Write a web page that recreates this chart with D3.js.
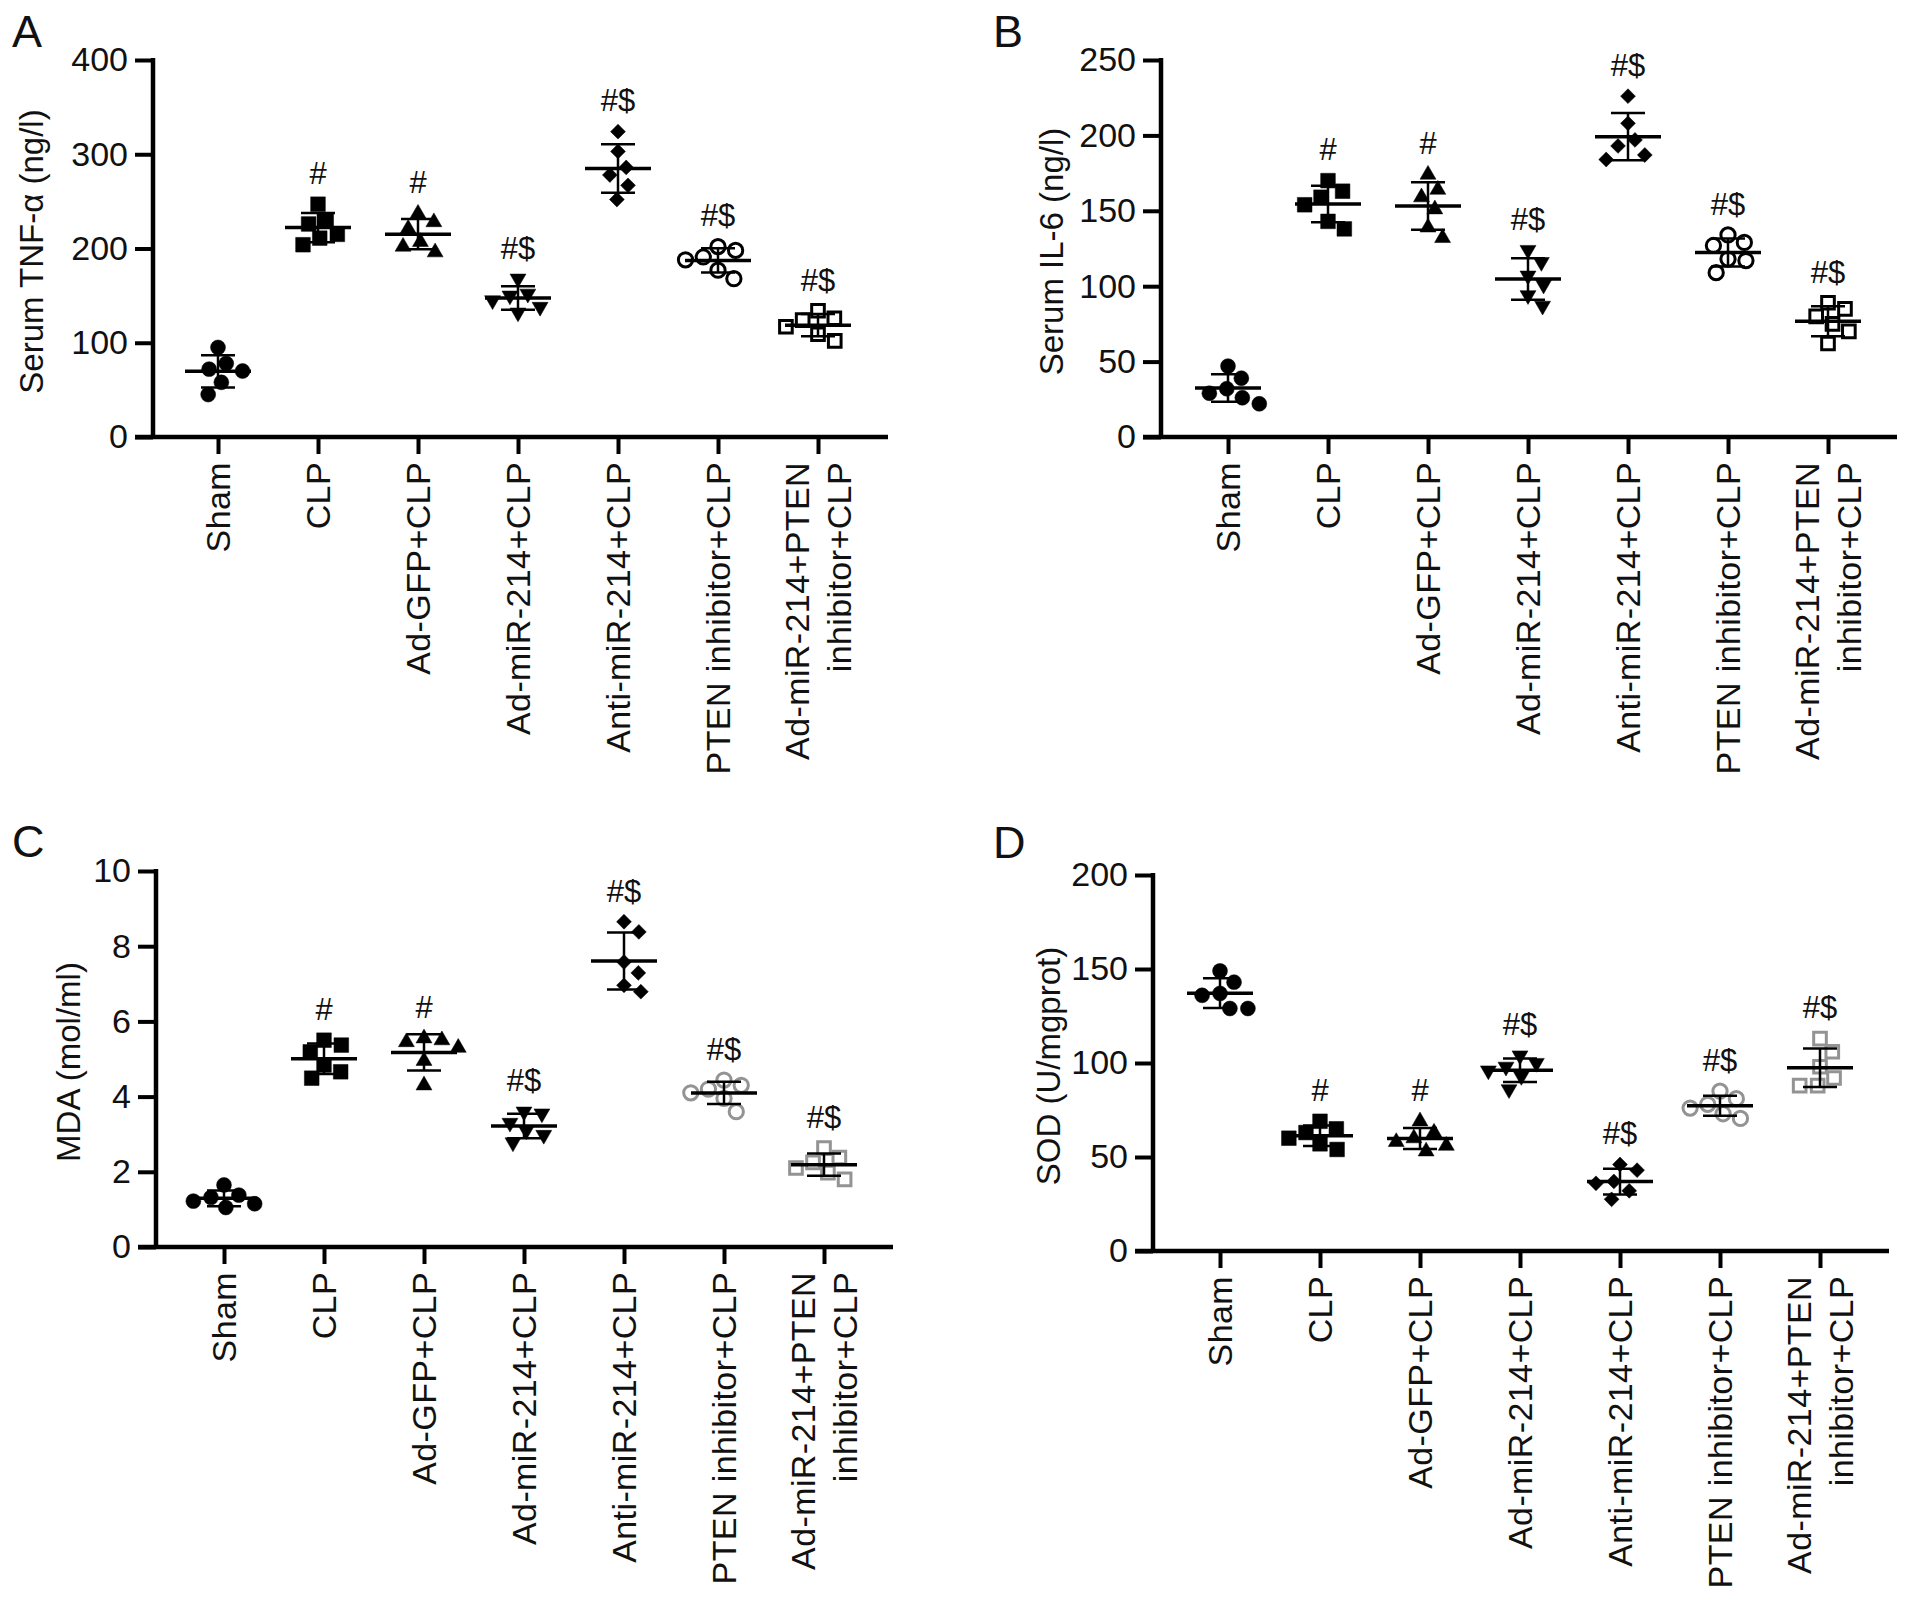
<!DOCTYPE html>
<html>
<head>
<meta charset="utf-8">
<script src="https://cdn.jsdelivr.net/npm/d3@7"></script>
<style>
  body { margin: 0; background: #fff; }
  svg { display: block; font-family: "Liberation Sans", Arial, Helvetica, sans-serif; }
</style>
</head>
<body>
<div id="chart"></div>
<script>

// group names, same for all four panels
var categories = ['Sham', 'CLP', 'Ad-GFP+CLP', 'Ad-miR-214+CLP', 'Anti-miR-214+CLP', 'PTEN inhibitor+CLP', 'Ad-miR-214+PTEN\ninhibitor+CLP'];
var sigLabels = ['', '#', '#', '#$', '#$', '#$', '#$'];

// values, six animals per group
var tnfValues = [
	[95, 78, 72, 70, 58, 45],
	[247, 230, 226, 215, 211, 204],
	[237, 228, 221, 207, 202, 196],
	[168, 152, 150, 145, 138, 132],
	[324, 303, 286, 278, 267, 252],
	[202, 198, 191, 188, 177, 168],
	[134, 126, 124, 117, 109, 102]
];
var il6Values = [
	[47, 39, 32, 29, 26, 22],
	[170, 163, 159, 154, 143, 138],
	[174, 164, 159, 151, 139, 132],
	[124, 116, 107, 101, 94, 87],
	[226, 208, 197, 193, 187, 184],
	[134, 129, 127, 118, 117, 109],
	[89, 85, 80, 75, 70, 62]
];
var mdaValues = [
	[1.65, 1.38, 1.32, 1.22, 1.15, 1.05],
	[5.5, 5.37, 5.19, 4.84, 4.66, 4.49],
	[5.55, 5.5, 5.45, 5.3, 4.95, 4.3],
	[3.6, 3.55, 3.3, 3.1, 2.98, 2.78],
	[8.65, 8.38, 7.58, 7.29, 6.96, 6.79],
	[4.44, 4.3, 4.2, 4.1, 3.95, 3.6],
	[2.63, 2.38, 2.25, 2.1, 1.98, 1.8]
];
var sodValues = [
	[149, 143, 137, 136, 129, 129],
	[69, 65, 63, 60, 57, 54],
	[69, 63, 60, 58, 56, 53],
	[104, 100, 98, 96, 93, 86],
	[46, 43, 37, 36, 32, 27.5],
	[85, 81, 78, 76, 73, 70.5],
	[113, 106, 98, 92, 88, 88]
];

var tnfTicks = [0, 100, 200, 300, 400];
var il6Ticks = [0, 50, 100, 150, 200, 250];
var mdaTicks = [0, 2, 4, 6, 8, 10];
var sodTicks = [0, 50, 100, 150, 200];

var W = 1913, H = 1607;
var GRAY = '#939393';

// marker per group: symbol, filled, rotation
var markers = [
	{ type: d3.symbolCircle, size: 175, fill: true, rot: 0 },
	{ type: d3.symbolSquare, size: 215, fill: true, rot: 0 },
	{ type: d3.symbolTriangle, size: 110, fill: true, rot: 0 },
	{ type: d3.symbolTriangle, size: 110, fill: true, rot: 180 },
	{ type: d3.symbolSquare, size: 110, fill: true, rot: 45 },
	{ type: d3.symbolCircle, size: 160, fill: false, rot: 0 },
	{ type: d3.symbolSquare, size: 160, fill: false, rot: 0 }
];

var panels = [
	{ letter: 'A', lx: 12, ly: 47, values: tnfValues, ticks: tnfTicks, title: 'Serum TNF-\u03b1 (ng/l)', ax: 153, y0: 437, y1: 60, x0: 218, end: 888, tx: 31, grayLast: false },
	{ letter: 'B', lx: 993, ly: 47, values: il6Values, ticks: il6Ticks, title: 'Serum IL-6 (ng/l)', ax: 1161, y0: 437, y1: 60, x0: 1228, end: 1897, tx: 1051, grayLast: false },
	{ letter: 'C', lx: 12, ly: 857, values: mdaValues, ticks: mdaTicks, title: 'MDA (mol/ml)', ax: 156, y0: 1247, y1: 871, x0: 224, end: 893, tx: 68, grayLast: true },
	{ letter: 'D', lx: 993, ly: 858, values: sodValues, ticks: sodTicks, title: 'SOD (U/mgprot)', ax: 1153, y0: 1251, y1: 875, x0: 1220, end: 1889, tx: 1048, grayLast: true }
];

var svg = d3.select('#chart').append('svg').attr('width', W).attr('height', H);
svg.append('rect').attr('width', W).attr('height', H).attr('fill', '#fff');

// spread the points of a group sideways so they do not overlap (beeswarm)
function swarm(vals, y, d) {
	var order = vals.map(function(v, i) { return i; }).sort(function(a, b) { return vals[b] - vals[a]; });
	var placed = [];
	var out = [];
	order.forEach(function(i) {
		var yi = y(vals[i]);
		var blocks = [];
		placed.forEach(function(p) {
			var dy = Math.abs(p.y - yi);
			if (dy < d) {
				var w = Math.sqrt(d * d - dy * dy);
				blocks.push([p.x - w, p.x + w]);
			}
		});
		var cands = [0];
		blocks.forEach(function(b) { cands.push(b[0], b[1]); });
		cands.sort(function(a, b) { return Math.abs(a) - Math.abs(b) || b - a; });
		var x = cands.find(function(c) {
			return blocks.every(function(b) { return c <= b[0] + 1e-6 || c >= b[1] - 1e-6; });
		});
		placed.push({ x: x, y: yi });
		out[i] = x;
	});
	return out;
}

panels.forEach(function(p) {

	var g = svg.append('g');
	var ymax = p.ticks[p.ticks.length - 1];
	var y = d3.scaleLinear().domain([0, ymax]).range([p.y0, p.y1]);
	var x = d3.scalePoint().domain(categories).range([p.x0, p.x0 + 600]);

	// panel letter
	g.append('text').attr('x', p.lx).attr('y', p.ly).style('font-size', '45px').attr('fill', '#111').text(p.letter);

	// y axis
	var ya = g.append('g').attr('transform', 'translate(' + p.ax + ',0)')
		.call(d3.axisLeft(y).tickValues(p.ticks).tickSize(18).tickPadding(7).tickFormat(d3.format('d')));
	ya.select('.domain').remove();
	ya.selectAll('.tick line').attr('stroke', '#000').attr('stroke-width', 4);
	ya.selectAll('.tick text').style('font-size', '34px').style('font-family', 'inherit').attr('fill', '#111');

	g.append('line').attr('x1', p.ax).attr('x2', p.ax).attr('y1', p.y1 - 2).attr('y2', p.y0)
		.attr('stroke', '#000').attr('stroke-width', 4.5);

	// x axis
	var xa = g.append('g').attr('transform', 'translate(0,' + p.y0 + ')')
		.call(d3.axisBottom(x).tickSize(17).tickFormat(''));
	xa.select('.domain').remove();
	xa.selectAll('.tick line').attr('stroke', '#000').attr('stroke-width', 4);

	g.append('line').attr('x1', p.ax - 18).attr('x2', p.end).attr('y1', p.y0).attr('y2', p.y0)
		.attr('stroke', '#000').attr('stroke-width', 4.5);

	// category labels, rotated
	categories.forEach(function(c) {
		var lines = c.split('\n');
		var t = g.append('text')
			.attr('transform', 'translate(' + x(c) + ',' + (p.y0 + 25) + ') rotate(-90)')
			.attr('text-anchor', 'end')
			.style('font-size', '34px')
			.style('letter-spacing', '0.4px')
			.attr('fill', '#111');
		lines.forEach(function(line, i) {
			var off = (i - (lines.length - 1) / 2) * 1.22;
			t.append('tspan').attr('x', 0).attr('dy', i === 0 ? (off + 0.35) + 'em' : '1.22em').text(line);
		});
	});

	// y title
	g.append('text')
		.attr('transform', 'translate(' + p.tx + ',' + ((p.y0 + p.y1) / 2 + 3) + ') rotate(-90)')
		.attr('text-anchor', 'middle')
		.attr('dy', '0.35em')
		.style('font-size', '33px')
		.attr('fill', '#111')
		.text(p.title);

	// groups
	p.values.forEach(function(vals, gi) {
		var cx = x(categories[gi]);
		var m = markers[gi];
		var color = p.grayLast && gi >= 5 ? GRAY : '#000';
		var offs = swarm(vals, y, 18);
		var sym = d3.symbol().type(m.type).size(m.size);

		g.append('g').selectAll('path').data(vals).enter().append('path')
			.attr('d', sym)
			.attr('transform', function(v, i) { return 'translate(' + (cx + offs[i]) + ',' + y(v) + ') rotate(' + m.rot + ')'; })
			.attr('fill', m.fill ? color : 'none')
			.attr('stroke', color)
			.attr('stroke-width', m.fill ? 0.5 : 3);

		var mean = d3.mean(vals);
		var sd = d3.deviation(vals);

		g.append('line').attr('x1', cx).attr('x2', cx).attr('y1', y(mean + sd)).attr('y2', y(mean - sd))
			.attr('stroke', '#000').attr('stroke-width', 2.5);
		[mean + sd, mean - sd].forEach(function(v) {
			g.append('line').attr('x1', cx - 17).attr('x2', cx + 17).attr('y1', y(v)).attr('y2', y(v))
				.attr('stroke', '#000').attr('stroke-width', 2.5);
		});
		g.append('line').attr('x1', cx - 33).attr('x2', cx + 33).attr('y1', y(mean)).attr('y2', y(mean))
			.attr('stroke', '#000').attr('stroke-width', 3.5);

		if (sigLabels[gi]) {
			g.append('text')
				.attr('x', cx).attr('y', y(d3.max(vals)) - 31)
				.attr('dy', '0.35em')
				.attr('text-anchor', 'middle')
				.style('font-size', '31px')
				.attr('fill', '#111')
				.text(sigLabels[gi]);
		}
	});
});

</script>
</body>
</html>
